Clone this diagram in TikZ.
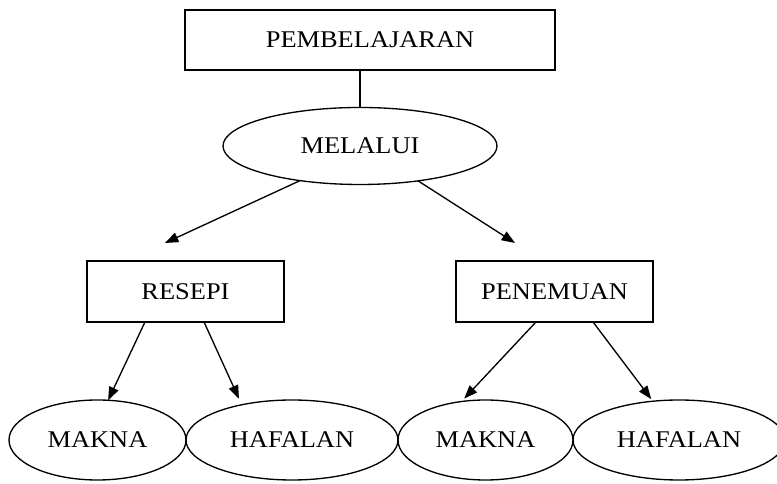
\documentclass[tikz,border=0pt]{standalone}
\usepackage{fontspec}
\newfontfamily\diagfont{Liberation Serif}[FakeStretch=1.1]
\usetikzlibrary{%
    arrows.meta,
    positioning,
    shapes.geometric
}
\tikzset{concept/.style = {draw, rectangle, line width=1pt, inner sep=0pt, outer sep=0pt,
    minimum width=147.75pt, minimum height=45.75pt, font=\diagfont\fontsize{18}{21}\selectfont}}
\tikzset{idea/.style = {concept, ellipse, minimum height=60pt}}
\tikzset{leadarrow/.style = {line width=1pt, -{Triangle[length=10pt,width=7.5pt]}}}

\begin{document}
\begin{tikzpicture}[x=0.75pt, y=0.75pt]
    \useasboundingbox (0,0) rectangle (777,484);

    % concepts
    \node[concept, minimum width=277.5pt, minimum height=45pt] (pembelajaran) at (370,444) {PEMBELAJARAN};
    \node[idea, minimum width=205.5pt, minimum height=57.75pt] (melalui) at (360,338) {MELALUI};
    \node[concept] (resepi) at (185.5,192.5) {RESEPI};
    \node[concept] (penemuan) at (554.5,192.5) {PENEMUAN};

    % bottom row
    \node[idea, minimum width=132.75pt] (makna1) at (97.5,44) {MAKNA};
    \node[idea, minimum width=159pt] (hafalan1) [right=0pt of makna1] {HAFALAN};
    \node[idea, minimum width=131.25pt] (makna2) [right=0pt of hafalan1] {MAKNA};
    \node[idea, minimum width=159pt] (hafalan2) [right=0pt of makna2] {HAFALAN};

    % edges
    \draw[line width=1pt] (melalui.north) -- (melalui.north |- pembelajaran.south);
    \draw[leadarrow] (melalui.210) -- ([xshift=-15.4pt, yshift=13.5pt]resepi.north);
    \draw[leadarrow] (melalui.329) -- ([xshift=-29.6pt, yshift=13.5pt]penemuan.north);
    \foreach \Source/\Shift/\Target/\Gap in {%
        resepi/-30.4pt/makna1.75/0pt,
        resepi/13.9pt/hafalan1.145/5pt,
        penemuan/-13.9pt/makna2.122/3pt,
        penemuan/28.9pt/hafalan2.124/2pt%
        }
        \draw[leadarrow, shorten >=\Gap] ([xshift=\Shift]\Source.south) -- (\Target);
\end{tikzpicture}
\end{document}
